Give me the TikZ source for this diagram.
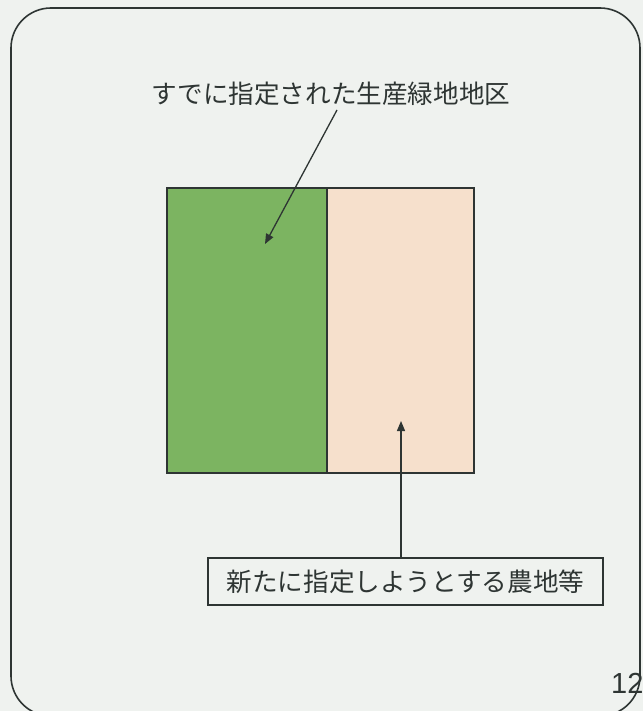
\documentclass[tikz,border=0pt]{standalone}
\usepackage{fontspec}
\newfontfamily\cjk{Noto Sans CJK JP}
\setsansfont{Liberation Sans}
\usetikzlibrary{arrows.meta}
\definecolor{bg}{HTML}{EFF2EF}
\definecolor{lgreen}{HTML}{7CB461}
\definecolor{peach}{HTML}{F6E0CC}
\definecolor{ink}{HTML}{2E3533}
\tikzset{
  area/.style={draw=ink, line width=2pt, inner sep=0pt, outer sep=0pt},
  lbl/.style={font=\cjk\fontsize{25.6}{29}\selectfont, text=ink, inner sep=0pt},
  pointer/.style={draw=ink, line width=1.3pt, -{Triangle[length=10pt,width=8pt]}},
}
\begin{document}
\begin{tikzpicture}[x=1pt,y=-1pt]
\useasboundingbox (0,0) rectangle (643,711);
\fill[bg] (0,0) rectangle (643,711);
\draw[ink, line width=1.6pt, rounded corners=40pt] (11,8) rectangle (640,716);
\node[area, fill=lgreen, minimum width=160pt, minimum height=285pt, anchor=north west] (green) at (167,188) {};
\node[area, fill=peach, minimum width=147pt, minimum height=285pt, anchor=north west] (peach) at (327,188) {};
\node[lbl] (top) at (331,94) {すでに指定された生産緑地地区};
\node[lbl, draw=ink, line width=1.5pt, minimum width=395pt, minimum height=47pt, fill=bg] (newlbl) at (405.5,581.5) {新たに指定しようとする農地等};
\coordinate (gtip) at (265,244);
\coordinate (ptip) at (401,421);
\draw[pointer] (337,110) -- (gtip);
\draw[pointer] (newlbl.north -| ptip) -- (ptip);
\node[font=\sffamily\fontsize{29}{32}\selectfont, text=ink, anchor=base west, inner sep=0pt] (pg) at (611,693) {12};
\end{tikzpicture}
\end{document}
